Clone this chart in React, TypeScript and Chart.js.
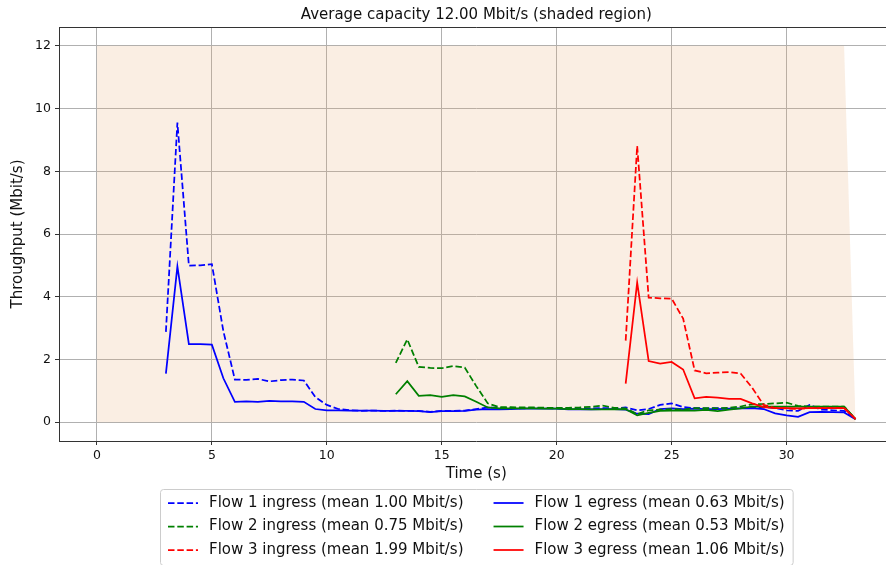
import React, { useEffect, useRef } from "react";
import { Chart, registerables } from "chart.js";

Chart.register(...registerables);

const time = [
  0, 0.5, 1, 1.5, 2, 2.5, 3, 3.5, 4, 4.5, 5, 5.5, 6, 6.5, 7, 7.5, 8, 8.5, 9, 9.5,
  10, 10.5, 11, 11.5, 12, 12.5, 13, 13.5, 14, 14.5, 15, 15.5, 16, 16.5, 17, 17.5,
  18, 18.5, 19, 19.5, 20, 20.5, 21, 21.5, 22, 22.5, 23, 23.5, 24, 24.5, 25, 25.5,
  26, 26.5, 27, 27.5, 28, 28.5, 29, 29.5, 30, 30.5, 31, 31.5, 32, 32.5, 33,
];

const flow1Start = 6; // index in time (3 s)
const flow2Start = 26; // 13 s
const flow3Start = 46; // 23 s

const flow1Ingress = [
  2.88, 9.55, 4.99, 5.0, 5.04, 2.9, 1.36, 1.35, 1.38, 1.3,
  1.34, 1.36, 1.33, 0.8, 0.55, 0.42, 0.38, 0.36, 0.37, 0.36,
  0.37, 0.36, 0.36, 0.33, 0.36, 0.36, 0.37, 0.42, 0.47, 0.46,
  0.45, 0.44, 0.45, 0.45, 0.44, 0.44, 0.42, 0.44, 0.45, 0.44,
  0.47, 0.38, 0.42, 0.55, 0.6, 0.48, 0.45, 0.44, 0.45, 0.43,
  0.45, 0.47, 0.48, 0.45, 0.38, 0.36, 0.55, 0.4, 0.38, 0.36,
  0.1,
];
const flow1Egress = [
  1.55, 4.97, 2.49, 2.49, 2.47, 1.4, 0.65, 0.66, 0.65, 0.68,
  0.66, 0.66, 0.65, 0.42, 0.38, 0.38, 0.37, 0.37, 0.37, 0.36,
  0.36, 0.36, 0.35, 0.32, 0.35, 0.35, 0.36, 0.4, 0.42, 0.41,
  0.42, 0.43, 0.43, 0.43, 0.43, 0.41, 0.41, 0.41, 0.42, 0.42,
  0.4, 0.27, 0.26, 0.42, 0.44, 0.42, 0.43, 0.42, 0.42, 0.43,
  0.44, 0.45, 0.42, 0.28, 0.22, 0.17, 0.32, 0.33, 0.32, 0.31,
  0.09,
];
const flow2Ingress = [
  1.89, 2.64, 1.76, 1.73, 1.72, 1.79, 1.74, 1.15, 0.6, 0.48,
  0.48, 0.47, 0.47, 0.46, 0.46, 0.46, 0.47, 0.49, 0.53, 0.46,
  0.44, 0.26, 0.38, 0.4, 0.42, 0.4, 0.45, 0.45, 0.44, 0.46,
  0.5, 0.57, 0.58, 0.6, 0.62, 0.52, 0.5, 0.5, 0.5, 0.5,
  0.1,
];
const flow2Egress = [
  0.89, 1.31, 0.84, 0.86, 0.81, 0.86, 0.82, 0.65, 0.47, 0.44,
  0.44, 0.44, 0.44, 0.43, 0.43, 0.42, 0.42, 0.41, 0.41, 0.42,
  0.41, 0.22, 0.3, 0.36, 0.37, 0.38, 0.37, 0.39, 0.35, 0.4,
  0.44, 0.5, 0.5, 0.5, 0.5, 0.5, 0.5, 0.5, 0.5, 0.5,
  0.1,
];
const flow3Ingress = [
  2.6, 8.81, 3.97, 3.95, 3.94, 3.3, 1.65, 1.56, 1.58, 1.6,
  1.55, 1.1, 0.55, 0.45, 0.44, 0.42, 0.45, 0.45, 0.46, 0.46,
  0.1,
];
const flow3Egress = [
  1.23, 4.45, 1.95, 1.87, 1.92, 1.68, 0.76, 0.81, 0.78, 0.74,
  0.74, 0.6, 0.48, 0.45, 0.45, 0.44, 0.45, 0.45, 0.45, 0.45,
  0.1,
];

const capacityTimes = [0, 32.5, 33];
const capacityValues = [12, 12, 0];

const xTicks = [0, 5, 10, 15, 20, 25, 30];
const yTicks = [0, 2, 4, 6, 8, 10, 12];

const titleText = "Average capacity 12.00 Mbit/s (shaded region)";
const xLabel = "Time (s)";
const yLabel = "Throughput (Mbit/s)";

const legendCol1 = [
  "Flow 1 ingress (mean 1.00 Mbit/s)",
  "Flow 2 ingress (mean 0.75 Mbit/s)",
  "Flow 3 ingress (mean 1.99 Mbit/s)",
];
const legendCol2 = [
  "Flow 1 egress (mean 0.63 Mbit/s)",
  "Flow 2 egress (mean 0.53 Mbit/s)",
  "Flow 3 egress (mean 1.06 Mbit/s)",
];
const flowColors = ["#0000ff", "#008000", "#ff0000"];

const FONT = "'DejaVu Sans', sans-serif";
const LW = 1.75;
const DASH = [6.5, 2.8];

function pts(values: number[], start: number) {
  return values.map((v, i) => ({ x: time[start + i], y: v }));
}

const decorPlugin = {
  id: "decor",
  afterDraw(chart: any) {
    const { ctx, chartArea } = chart;
    const { left, right, top, bottom } = chartArea;
    const cx = (left + right) / 2;
    ctx.save();
    ctx.strokeStyle = "#333";
    ctx.lineWidth = 1;
    ctx.beginPath();
    ctx.moveTo(left, top + 0.5);
    ctx.lineTo(right, top + 0.5);
    ctx.moveTo(right - 0.5, top);
    ctx.lineTo(right - 0.5, bottom);
    ctx.stroke();

    ctx.fillStyle = "#111";
    ctx.font = `15px ${FONT}`;
    ctx.textAlign = "center";
    ctx.textBaseline = "middle";
    ctx.fillText(titleText, cx, 15);
    ctx.fillText(xLabel, cx, 474);
    ctx.save();
    ctx.translate(18, (top + bottom) / 2);
    ctx.rotate(-Math.PI / 2);
    ctx.fillText(yLabel, 0, 0);
    ctx.restore();

    // legend
    const handleLen = 30;
    const handlePad = 11;
    const colSpace = 30;
    const pad = 8;
    const rowH = 23.5;
    const w1 = Math.max(...legendCol1.map((t) => ctx.measureText(t).width));
    const w2 = Math.max(...legendCol2.map((t) => ctx.measureText(t).width));
    const total = pad * 2 + handleLen * 2 + handlePad * 2 + w1 + w2 + colSpace;
    const bx = Math.round(cx - total / 2);
    const by = 489;
    const bh = 76;
    ctx.fillStyle = "rgba(255,255,255,0.8)";
    ctx.strokeStyle = "#cccccc";
    ctx.lineWidth = 1;
    ctx.beginPath();
    ctx.roundRect(bx + 0.5, by + 0.5, total, bh, 3);
    ctx.fill();
    ctx.stroke();
    ctx.textAlign = "left";
    const col2x = bx + pad + handleLen + handlePad + w1 + colSpace;
    for (let r = 0; r < 3; r++) {
      const y = by + 14 + r * rowH;
      const cols = [
        { x: bx + pad, text: legendCol1[r], dash: DASH },
        { x: col2x, text: legendCol2[r], dash: [] as number[] },
      ];
      for (const c of cols) {
        ctx.strokeStyle = flowColors[r];
        ctx.lineWidth = LW;
        ctx.setLineDash(c.dash);
        ctx.beginPath();
        ctx.moveTo(c.x, y);
        ctx.lineTo(c.x + handleLen, y);
        ctx.stroke();
        ctx.setLineDash([]);
        ctx.fillStyle = "#111";
        ctx.fillText(c.text, c.x + handleLen + handlePad, y);
      }
    }
    ctx.restore();
  },
};

export default function App() {
  const ref = useRef<HTMLCanvasElement | null>(null);
  useEffect(() => {
    document.body.style.margin = "0";
    const canvas = ref.current;
    if (!canvas) return;
    const line = (data: number[], start: number, color: string, dashed: boolean) => ({
      data: pts(data, start),
      borderColor: color,
      backgroundColor: color,
      borderWidth: LW,
      borderDash: dashed ? DASH : [],
      pointRadius: 0,
      fill: false,
      tension: 0,
    });
    const chart = new Chart(canvas, {
      type: "line",
      data: {
        datasets: [
          line(flow3Egress, flow3Start, flowColors[2], false),
          line(flow3Ingress, flow3Start, flowColors[2], true),
          line(flow2Egress, flow2Start, flowColors[1], false),
          line(flow2Ingress, flow2Start, flowColors[1], true),
          line(flow1Egress, flow1Start, flowColors[0], false),
          line(flow1Ingress, flow1Start, flowColors[0], true),
          {
            data: capacityTimes.map((t, i) => ({ x: t, y: capacityValues[i] })),
            borderColor: "transparent",
            backgroundColor: "rgba(230,170,115,0.2)",
            borderWidth: 0,
            pointRadius: 0,
            fill: "origin",
            tension: 0,
          },
        ] as any,
      },
      options: {
        animation: false,
        responsive: false,
        devicePixelRatio: 1,
        layout: { padding: { left: 0, top: 27, right: 6.5, bottom: 0 } },
        plugins: {
          legend: { display: false },
          tooltip: { enabled: false },
          title: { display: false },
        },
        scales: {
          x: {
            type: "linear",
            min: -1.65,
            max: 34.65,
            afterFit: (s: any) => {
              s.height = 124;
            },
            afterBuildTicks: (s: any) => {
              s.ticks = xTicks.map((v) => ({ value: v }));
            },
            grid: {
              color: "#b0b0b0",
              lineWidth: 1,
              tickLength: 4,
              tickColor: "#333",
              tickWidth: 1,
            },
            border: { display: true, color: "#333", width: 1 },
            ticks: {
              color: "#111",
              font: { family: FONT, size: 12.5 },
              padding: 3,
              maxRotation: 0,
              autoSkip: false,
            },
          },
          y: {
            type: "linear",
            min: -0.6,
            max: 12.6,
            afterFit: (s: any) => {
              s.width = 59;
            },
            afterBuildTicks: (s: any) => {
              s.ticks = yTicks.map((v) => ({ value: v }));
            },
            grid: {
              color: "#b0b0b0",
              lineWidth: 1,
              tickLength: 4,
              tickColor: "#333",
              tickWidth: 1,
            },
            border: { display: true, color: "#333", width: 1 },
            ticks: {
              color: "#111",
              font: { family: FONT, size: 12.5 },
              padding: 4,
              autoSkip: false,
            },
          },
        },
      } as any,
      plugins: [decorPlugin],
    });
    return () => chart.destroy();
  }, []);
  return (
    <div style={{ width: 886, height: 565, overflow: "hidden", position: "relative" }}>
      <canvas ref={ref} width={900} height={565} style={{ display: "block" }} />
    </div>
  );
}
